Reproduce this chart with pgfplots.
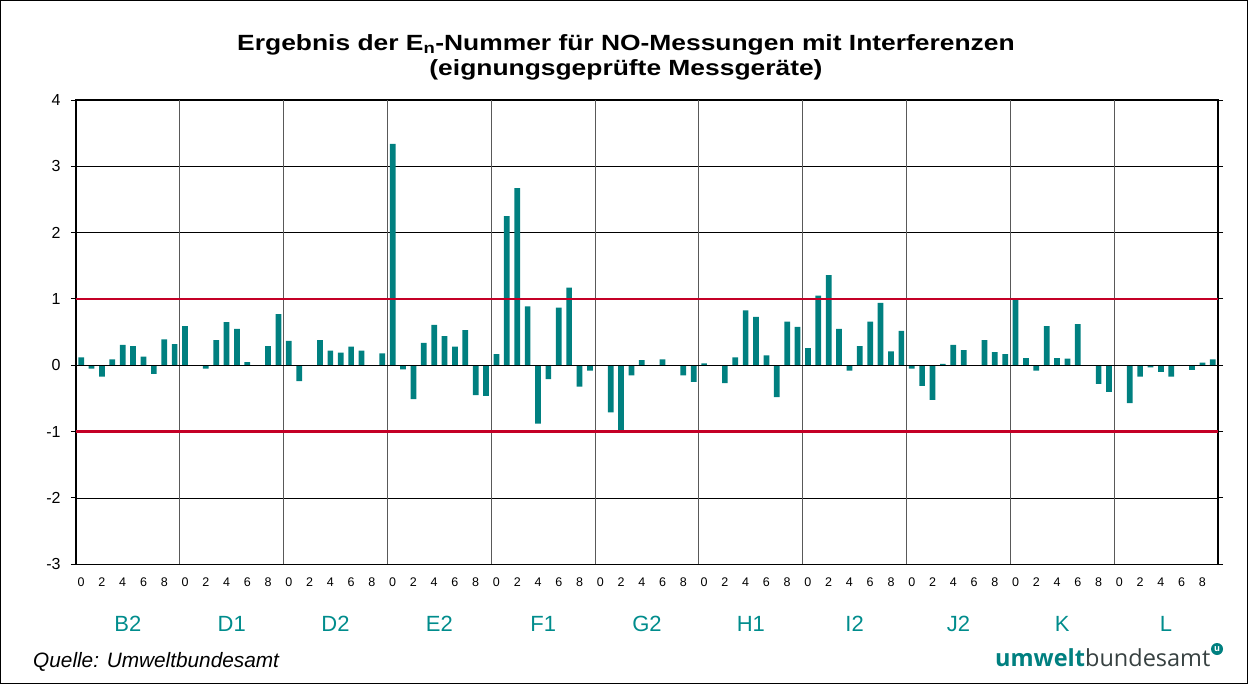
\documentclass[border=0pt]{standalone}
\usepackage{pgfplots}
\pgfplotsset{compat=1.18}
\usepackage{pgfplotstable}
\usepackage{fontspec}
\setmainfont{Liberation Sans}
\newfontfamily\titlefont[FakeStretch=1.2]{Liberation Sans}
\newfontfamily\logofont{Open Sans}

\definecolor{ubateal}{RGB}{0,128,128}
\definecolor{grplabel}{RGB}{0,140,140}
\definecolor{ubared}{RGB}{196,0,38}
\definecolor{logogray}{RGB}{55,65,65}

% En values, 10 instruments per group, x = group*10 + instrument
\pgfplotstableread{
x y
0 0.12
1 -0.05
2 -0.17
3 0.09
4 0.31
5 0.29
6 0.13
7 -0.13
8 0.39
9 0.32
10 0.59
11 0
12 -0.05
13 0.38
14 0.65
15 0.55
16 0.05
17 0
18 0.29
19 0.77
20 0.37
21 -0.24
22 0
23 0.38
24 0.22
25 0.19
26 0.28
27 0.22
28 0
29 0.18
30 3.34
31 -0.06
32 -0.51
33 0.34
34 0.61
35 0.44
36 0.28
37 0.53
38 -0.45
39 -0.46
40 0.17
41 2.25
42 2.67
43 0.89
44 -0.88
45 -0.21
46 0.87
47 1.17
48 -0.32
49 -0.08
50 0
51 -0.71
52 -1.01
53 -0.15
54 0.08
55 0
56 0.09
57 0
58 -0.15
59 -0.25
60 0.03
61 0
62 -0.27
63 0.12
64 0.83
65 0.73
66 0.15
67 -0.48
68 0.66
69 0.58
70 0.26
71 1.05
72 1.36
73 0.55
74 -0.08
75 0.29
76 0.66
77 0.94
78 0.21
79 0.52
80 -0.05
81 -0.31
82 -0.52
83 0.02
84 0.31
85 0.23
86 0
87 0.38
88 0.20
89 0.17
90 1.00
91 0.11
92 -0.08
93 0.59
94 0.11
95 0.10
96 0.62
97 0
98 -0.28
99 -0.40
100 0
101 -0.57
102 -0.17
103 -0.03
104 -0.10
105 -0.17
106 0
107 -0.07
108 0.04
109 0.09
}\endata

\begin{document}
\begin{tikzpicture}
\draw[black, line width=0.8bp] (0.4bp,-0.4bp) rectangle (1247.6bp,-683.6bp);

\node[anchor=base, inner sep=0, font=\titlefont\fontsize{22bp}{26bp}\selectfont\bfseries]
  at (626bp,-50bp) {Ergebnis der E\textsubscript{n}-Nummer für NO-Messungen mit Interferenzen};
\node[anchor=base, inner sep=0, font=\titlefont\fontsize{22bp}{26bp}\selectfont\bfseries]
  at (626bp,-75bp) {(eignungsgeprüfte Messgeräte)};

\begin{axis}[
  at={(76bp,-564.3bp)}, anchor=south west,
  scale only axis, width=1142bp, height=464.3bp,
  xmin=-0.5, xmax=109.5, ymin=-3, ymax=4,
  ytick={-3,...,4},
  xtick={0,2,...,108},
  xticklabel={\pgfmathparse{int(mod(round(\tick),10))}\pgfmathresult},
  xtick style={draw=none},
  ytick style={black, line width=1bp},
  tick align=outside, major tick length=5bp,
  ymajorgrids, major grid style={black, line width=0.9bp},
  extra x ticks={9.5,19.5,...,99.5}, extra x tick labels={},
  extra x tick style={grid=major, major grid style={black!65, line width=1.1bp}},
  axis line style={black, line width=1.6bp},
  /pgf/number format/assume math mode=true,
  yticklabel style={font=\fontsize{16bp}{18bp}\selectfont, xshift=-7bp},
  xticklabel style={font=\fontsize{12.5bp}{15bp}\selectfont, yshift=-5bp},
]
\addplot[ybar, bar width=0.55, fill=ubateal, draw=none] table[x=x, y=y] {\endata};
\addplot[black, line width=1.2bp] coordinates {(-0.5,0) (109.5,0)};
\addplot[ubared, line width=2.6bp] coordinates {(-0.5,1) (109.5,1)};
\addplot[ubared, line width=2.6bp] coordinates {(-0.5,-1) (109.5,-1)};
\end{axis}

\foreach \g [count=\i from 0] in {B2,D1,D2,E2,F1,G2,H1,I2,J2,K,L}
  \node[anchor=base, inner sep=0, text=grplabel, font=\fontsize{22bp}{26bp}\selectfont]
    at ({(76+103.82*(\i+0.5))*1bp}, -631bp) {\g};

\node[anchor=base west, inner sep=0, font=\fontsize{20.8bp}{24bp}\selectfont\itshape]
  at (33bp,-667bp) {Quelle: Umweltbundesamt};

\node[anchor=base west, inner sep=0, font=\logofont\fontsize{23.5bp}{26bp}\selectfont]
  at (995bp,-666.7bp) {\textcolor{ubateal}{\bfseries umwelt}\textcolor{logogray}{bundesamt}};
\node[circle, fill=ubateal, inner sep=0, minimum size=12bp,
  font=\logofont\fontsize{9bp}{9bp}\selectfont\bfseries, text=white]
  at (1217bp,-649bp) {u};
\end{tikzpicture}
\end{document}
